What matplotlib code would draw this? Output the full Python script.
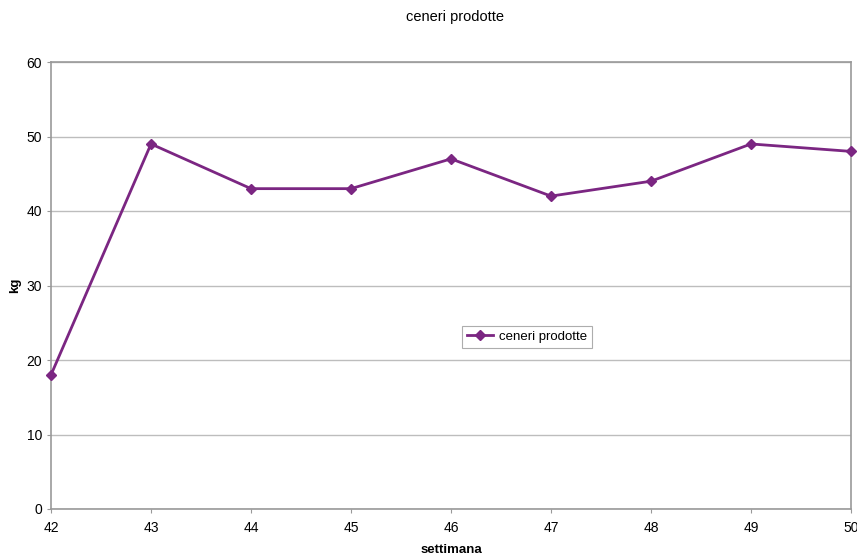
import matplotlib
matplotlib.use("Agg")
import matplotlib.pyplot as plt

weeks = [42, 43, 44, 45, 46, 47, 48, 49, 50]
ash_kg = [18, 49, 43, 43, 47, 42, 44, 49, 48]
series_name = "ceneri prodotte"
title = "ceneri prodotte"

plt.rcParams['font.family'] = ['Liberation Sans', 'DejaVu Sans']

fig = plt.figure(figsize=(8.57, 5.56), dpi=100)
ax = fig.add_axes([51/857, 47/556, 800/857, 447/556])

color = '#7B2682'
ax.plot(weeks, ash_kg, color=color, lw=2, marker='D', ms=5.5, label=series_name, clip_on=False, zorder=3)

ax.set_xlim(42, 50)
ax.set_ylim(0, 60)
ax.set_yticks(range(0, 61, 10))
ax.set_xticks(weeks)
ax.yaxis.grid(True, color='#BDBDBD', lw=1)
ax.set_axisbelow(True)
for s in ax.spines.values():
    s.set_color('#999999')
    s.set_linewidth(1.2)
ax.tick_params(axis='both', colors='#999999', labelcolor='black', labelsize=10, length=3, direction='out')
ax.tick_params(axis='x', pad=6)

ax.set_xlabel('settimana', fontweight='bold', fontsize=9.5, labelpad=6)
ax.set_ylabel('kg', fontweight='bold', fontsize=9.5, labelpad=4)
fig.text(455/857, 1 - 17/556, title, ha='center', va='center', fontsize=10.5)

leg = ax.legend(loc='center', bbox_to_anchor=(0.595, 0.385), fontsize=9.5, frameon=True,
                fancybox=False, edgecolor='#999999', handlelength=2.0, handletextpad=0.4,
                borderpad=0.4)
leg.get_frame().set_linewidth(0.8)

fig.savefig('out.png', dpi=100)
